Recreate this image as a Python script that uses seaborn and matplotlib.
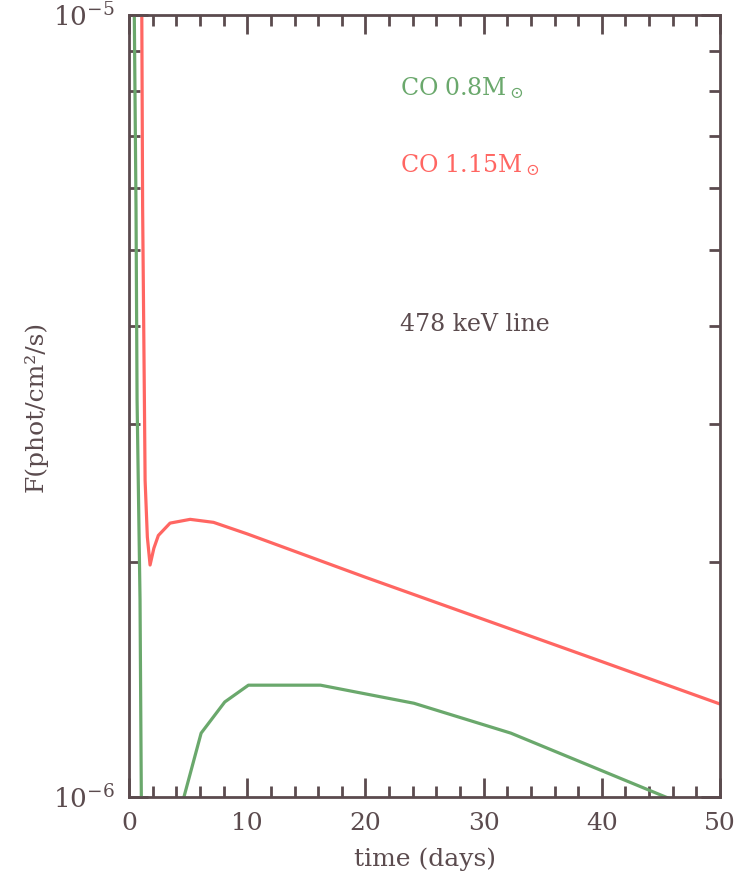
import numpy as np
import pandas as pd
import matplotlib
matplotlib.use("Agg")
import matplotlib.pyplot as plt
import seaborn as sns
from matplotlib.ticker import FixedLocator, NullFormatter, MultipleLocator

# ---- data ----
t_08 = [0.30, 0.45, 0.59, 0.68, 0.93, 1.04, 2.0, 4.0, 6.1, 8.1, 10.1, 16.2, 24.1, 32.3, 45.4, 50.0]
f_08 = [1.5e-5, 9.85e-6, 5.68e-6, 3.22e-6, 1.79e-6, 1.0e-6, 0.6e-6, 0.92e-6, 1.207e-6, 1.323e-6,
        1.39e-6, 1.39e-6, 1.318e-6, 1.207e-6, 1.0e-6, 0.936e-6]

t_115 = [1.0, 1.08, 1.15, 1.30, 1.36, 1.55, 1.78, 2.1, 2.48, 3.47, 5.17, 7.15, 10.0, 20.0, 30.0, 40.0, 50.0]
f_115 = [1.4e-5, 1.0e-5, 5.68e-6, 3.22e-6, 2.54e-6, 2.15e-6, 1.98e-6, 2.08e-6, 2.16e-6, 2.24e-6,
         2.265e-6, 2.245e-6, 2.17e-6, 1.91e-6, 1.687e-6, 1.49e-6, 1.315e-6]

labels = ["CO 0.8M$_\\odot$", "CO 1.15M$_\\odot$"]
note = "478 keV line"
x_ticks = [0, 10, 20, 30, 40, 50]
y_tick_labels = ["10$^{-6}$", "10$^{-5}$"]

df = pd.concat([
    pd.DataFrame({"t": t_08, "F": f_08, "model": "0.8"}),
    pd.DataFrame({"t": t_115, "F": f_115, "model": "1.15"}),
])

# ---- style ----
sns.set_style("ticks")
axc = "#5b4b4e"
green = "#6aa86c"
red = "#ff6662"
plt.rcParams["font.family"] = ["DejaVu Serif"]
plt.rcParams["mathtext.fontset"] = "dejavuserif"

fig = plt.figure(figsize=(7.48, 8.77), dpi=100)
ax = fig.add_axes([0.1725, 0.0912, 0.7901, 0.8917])

sns.lineplot(data=df, x="t", y="F", hue="model", palette={"0.8": green, "1.15": red},
             sort=False, estimator=None, legend=False, lw=2.3, ax=ax)

ax.set_yscale("log")
ax.set_xlim(0, 50)
ax.set_ylim(1e-6, 1e-5)

for s in ax.spines.values():
    s.set_color(axc)
    s.set_linewidth(2)

ax.xaxis.set_major_locator(FixedLocator(x_ticks))
ax.xaxis.set_minor_locator(MultipleLocator(2))
ax.yaxis.set_major_locator(FixedLocator([1e-6, 1e-5]))
ax.set_yticklabels(y_tick_labels)
ax.yaxis.set_minor_locator(FixedLocator([k * 1e-6 for k in range(2, 10)]))
ax.yaxis.set_minor_formatter(NullFormatter())

ax.tick_params(which="both", direction="in", top=True, right=True, colors=axc,
               labelcolor=axc, width=2)
ax.tick_params(which="major", length=14)
ax.tick_params(which="minor", length=8)
ax.tick_params(axis="x", which="major", pad=11, labelsize=18)
ax.tick_params(axis="y", which="major", pad=10, labelsize=19)

ax.set_xlabel("time (days)", fontsize=18, color=axc, labelpad=9)
ax.set_ylabel("F(phot/cm²/s)", fontsize=18, color=axc, labelpad=4)

ax.text(0.4585, 0.9066, labels[0], transform=ax.transAxes, color=green, fontsize=17,
        va="center", ha="left")
ax.text(0.4585, 0.808, labels[1], transform=ax.transAxes, color=red, fontsize=17,
        va="center", ha="left")
ax.text(0.4585, 0.6036, note, transform=ax.transAxes, color=axc, fontsize=17,
        va="center", ha="left")

fig.savefig("out.png", dpi=100)
